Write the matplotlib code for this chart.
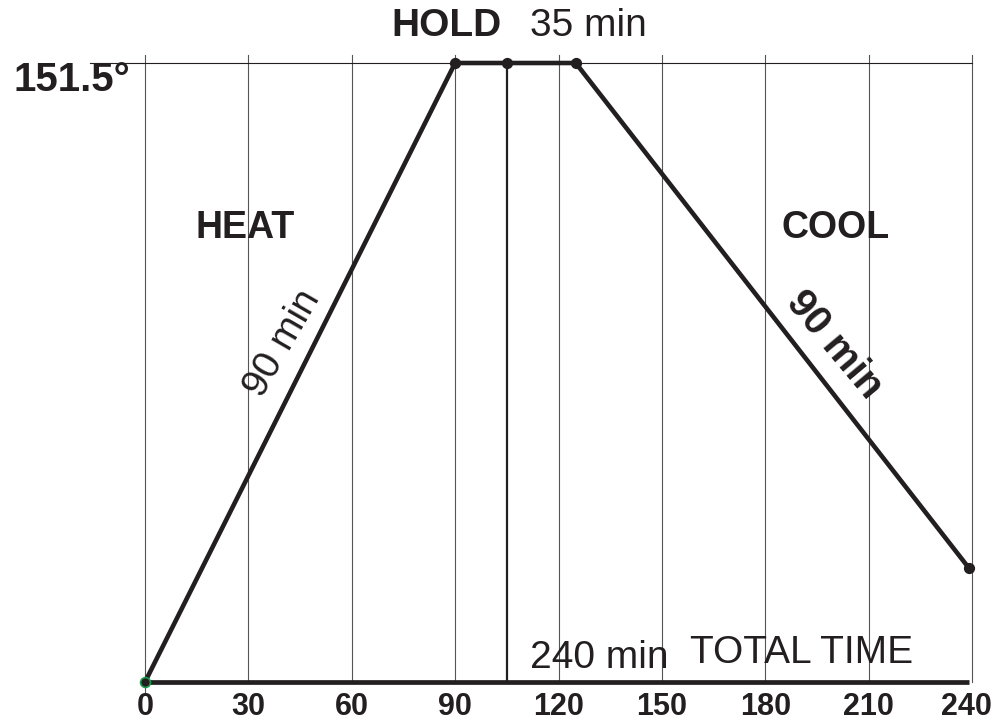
import matplotlib
matplotlib.use("Agg")
import matplotlib.pyplot as plt

# cure profile (minutes, degrees)
time_pts = [0, 90, 105, 125, 239]
temp_pts = [0, 151.5, 151.5, 151.5, 28]
hold_time = 105
max_temp = 151.5
grid_times = [0, 30, 60, 90, 120, 150, 180, 210, 240]
tick_labels = ["0", "30", "60", "90", "120", "150", "180", "210", "240"]

ink = "#231f20"
fonts = ["Liberation Sans", "DejaVu Sans"]


def main():
    fig = plt.figure(figsize=(9.95, 7.25), dpi=100)
    ax = fig.add_axes([0, 0, 1, 1])
    # pixel mapping: x=0 at 145px, 240 at 972px ; y=0 at 682px, 151.5 at 63px
    ax.set_xlim(-42.08, 246.67)
    ax.set_ylim(-10.52, 166.92)
    ax.axis("off")

    # vertical grid
    for t in grid_times:
        bottom = -2.4 if t == 0 else 0
        ax.plot([t, t], [bottom, max_temp + 2.0], color="#555555", lw=0.8, zorder=1)

    # top reference line
    ax.plot([-16, 240], [max_temp, max_temp], color=ink, lw=0.8, zorder=1)

    # hold marker line
    ax.plot([hold_time, hold_time], [0, max_temp], color=ink, lw=1.6, zorder=2)

    # baseline
    ax.plot([0, 239], [0, 0], color=ink, lw=3.4, solid_capstyle="butt", zorder=3)

    # profile
    ax.plot(time_pts, temp_pts, color=ink, lw=3.3, zorder=4)
    ax.scatter(time_pts[1:], temp_pts[1:], s=50, color=ink, zorder=5)
    ax.scatter([time_pts[0]], [temp_pts[0]], s=50, color=ink,
               edgecolors="#1a9a4a", linewidths=1.2, zorder=5)

    # tick labels
    for t, lab in zip(grid_times, tick_labels):
        x = min(t, 238.5)
        ax.text(x, -6.1, lab, ha="center", va="center", fontsize=22,
                fontweight="bold", family=fonts, color=ink)

    ax.text(-21.3, 147.4, "151.5°", ha="center", va="center", fontsize=29,
            fontweight="bold", family=fonts, color=ink)
    ax.text(103.5, 160.6, "HOLD", ha="right", va="center", fontsize=28,
            fontweight="bold", family=fonts, color=ink)
    ax.text(111.7, 160.6, "35 min", ha="left", va="center", fontsize=28,
            family=fonts, color=ink)
    ax.text(29.0, 111.0, "HEAT", ha="center", va="center", fontsize=27,
            fontweight="bold", family=fonts, color=ink)
    ax.text(200.5, 111.0, "COOL", ha="center", va="center", fontsize=27,
            fontweight="bold", family=fonts, color=ink)
    ax.text(39.8, 82.9, "90 min", ha="center", va="center", fontsize=28,
            rotation=60, family=fonts, color=ink)
    ax.text(200.2, 82.5, "90 min", ha="center", va="center", fontsize=29,
            rotation=-50, fontweight="bold", family=fonts, color=ink)
    ax.text(111.7, 5.8, "240 min", ha="left", va="center", fontsize=28,
            family=fonts, color=ink)
    ax.text(158.2, 7.0, "TOTAL TIME", ha="left", va="center", fontsize=28,
            family=fonts, color=ink)

    fig.savefig("out.png", dpi=100)


if __name__ == "__main__":
    main()
